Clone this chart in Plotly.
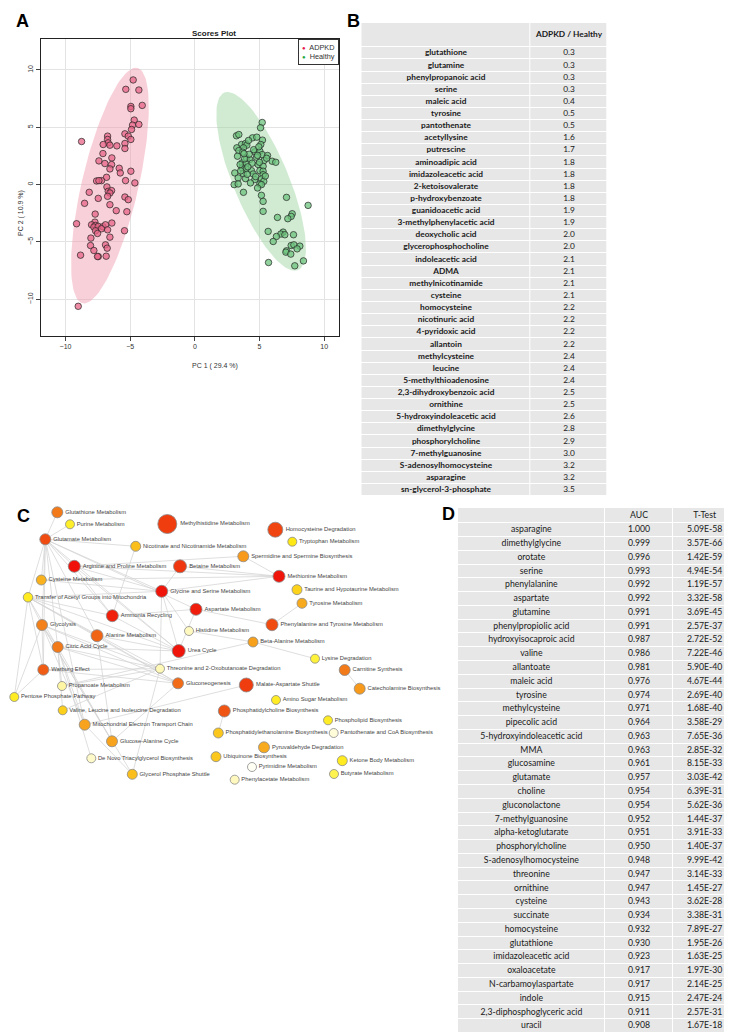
import numpy as np
import plotly.graph_objects as go

W, H = 732, 1036

# ---------------- Panel A data (PCA scores) ----------------
adpkd_pc1 = [-4.77, -5.34, -4.33, -4.95, -4.95, -4.07, -4.69, -4.82, -4.33, -4.90, -5.41, -5.15, -4.95, -5.41, -5.41,
             -8.76, -6.75, -6.75, -6.70, -7.09, -6.57, -6.03, -7.11, -7.42, -6.42, -6.96, -6.44, -5.85, -6.57, -5.77,
             -4.95, -6.83, -7.22, -7.60, -7.42, -5.36, -4.64, -6.80, -6.70, -6.44, -6.57, -6.75, -8.17, -7.47, -5.41,
             -5.15, -8.53, -6.57, -6.08, -5.26, -7.71, -9.15, -7.73, -6.42, -7.99, -7.68, -7.81, -7.47, -7.11, -6.91,
             -7.22, -6.75, -7.68, -7.53, -5.44, -8.04, -6.57, -8.07, -6.91, -6.78, -7.81, -8.84, -7.47, -7.53, -6.86,
             -9.02]
adpkd_pc2 = [9.13, 8.31, 8.25, 6.82, 6.62, 6.91, 5.63, 5.19, 5.25, 4.81, 4.43, 4.23, 3.94, 3.59, 3.15,
             3.76, 4.23, 3.94, 3.64, 3.50, 3.44, 3.38, 2.71, 2.07, 2.33, 1.84, 1.75, 1.43, 1.37, 1.02,
             1.17, 0.64, 0.35, 0.32, 0.35, 0.35, 0.15, -0.20, -0.58, -0.52, -0.73, -1.02, -0.67, -1.20, -1.08,
             -1.31, -1.63, -1.75, -2.27, -2.36, -2.57, -3.41, -3.27, -3.35, -3.50, -3.56, -3.70, -3.64, -3.67, -3.50,
             -3.85, -3.94, -4.02, -4.26, -4.02, -4.66, -4.58, -5.31, -5.25, -5.54, -5.74, -6.15, -6.27, -6.27, -6.24,
             -10.61]
healthy_pc1 = [5.21, 5.08, 3.22, 3.40, 4.46, 4.79, 5.23, 5.10, 3.61, 3.92, 4.02, 3.25, 3.76, 3.40, 3.71, 4.64,
               5.03, 5.21, 5.62, 3.30, 4.00, 4.25, 4.77, 5.36, 5.98, 6.26, 3.66, 3.97, 4.43, 4.90, 5.28, 3.66,
               3.97, 4.38, 5.03, 5.28, 3.09, 3.74, 4.51, 5.28, 3.35, 3.92, 4.64, 5.15, 5.33, 5.03, 3.04, 3.35,
               5.15, 4.85, 3.76, 5.15, 5.28, 7.09, 8.76, 5.28, 7.53, 7.45, 7.19, 6.39, 5.67, 6.83, 6.65, 6.96,
               6.31, 7.63, 6.06, 7.45, 7.66, 8.12, 7.91, 7.09, 7.04, 7.42, 5.70, 8.40, 7.73,
               4.20, 4.55, 3.85, 4.95, 4.10, 3.55, 4.70, 5.45, 3.80, 4.30, 5.00, 4.15, 3.50, 4.85, 4.05, 5.55]
healthy_pc2 = [5.42, 4.96, 4.26, 4.37, 4.08, 4.14, 3.88, 3.50, 3.50, 3.59, 3.44, 3.21, 3.21, 2.97, 2.83, 2.86,
               2.92, 2.62, 2.54, 2.48, 2.33, 2.19, 2.39, 2.10, 2.04, 1.95, 1.90, 1.81, 1.87, 1.75, 1.60, 1.46,
               1.37, 1.22, 1.22, 1.17, 1.02, 0.96, 0.93, 0.87, 0.58, 0.52, 0.44, 0.50, 0.29, 0.06, 0.00, 0.06,
               0.00, -0.29, -0.67, -0.93, -1.46, -1.11, -1.81, -2.33, -2.54, -2.77, -2.97, -2.86, -4.08, -4.14, -4.31,
               -4.37, -4.52, -4.37, -4.96, -5.31, -5.25, -5.36, -5.60, -5.77, -5.89, -6.06, -6.79, -6.65, -7.08,
               2.65, 3.05, 2.25, 3.30, 1.55, 1.20, 0.70, 0.75, 2.70, 0.15, 1.95, 3.85, 1.75, 2.55, 0.90, 2.30]

# ---------------- Panel B data ----------------
b_metabolites = ["glutathione", "glutamine", "phenylpropanoic acid", "serine", "maleic acid", "tyrosine",
                 "pantothenate", "acetyllysine", "putrescine", "aminoadipic acid", "imidazoleacetic acid",
                 "2-ketoisovalerate", "p-hydroxybenzoate", "guanidoacetic acid", "3-methylphenylacetic acid",
                 "deoxycholic acid", "glycerophosphocholine", "indoleacetic acid", "ADMA", "methylnicotinamide",
                 "cysteine", "homocysteine", "nicotinuric acid", "4-pyridoxic acid", "allantoin", "methylcysteine",
                 "leucine", "5-methylthioadenosine", "2,3-dihydroxybenzoic acid", "ornithine",
                 "5-hydroxyindoleacetic acid", "dimethylglycine", "phosphorylcholine", "7-methylguanosine",
                 "S-adenosylhomocysteine", "asparagine", "sn-glycerol-3-phosphate"]
b_ratio = [0.3, 0.3, 0.3, 0.3, 0.4, 0.5, 0.5, 1.6, 1.7, 1.8, 1.8, 1.8, 1.8, 1.9, 1.9, 2.0, 2.0, 2.1, 2.1, 2.1,
           2.1, 2.2, 2.2, 2.2, 2.2, 2.4, 2.4, 2.4, 2.5, 2.5, 2.6, 2.8, 2.9, 3.0, 3.2, 3.2, 3.5]
b_header = ["", "ADPKD / Healthy"]

# ---------------- Panel D data ----------------
d_metabolites = ["asparagine", "dimethylglycine", "orotate", "serine", "phenylalanine", "aspartate", "glutamine",
                 "phenylpropiolic acid", "hydroxyisocaproic acid", "valine", "allantoate", "maleic acid",
                 "tyrosine", "methylcysteine", "pipecolic acid", "5-hydroxyindoleacetic acid", "MMA",
                 "glucosamine", "glutamate", "choline", "gluconolactone", "7-methylguanosine",
                 "alpha-ketoglutarate", "phosphorylcholine", "S-adenosylhomocysteine", "threonine", "ornithine",
                 "cysteine", "succinate", "homocysteine", "glutathione", "imidazoleacetic acid", "oxaloacetate",
                 "N-carbamoylaspartate", "indole", "2,3-diphosphoglyceric acid", "uracil"]
d_auc = [1.000, 0.999, 0.996, 0.993, 0.992, 0.992, 0.991, 0.991, 0.987, 0.986, 0.981, 0.976, 0.974, 0.971,
         0.964, 0.963, 0.963, 0.961, 0.957, 0.954, 0.954, 0.952, 0.951, 0.950, 0.948, 0.947, 0.947, 0.943,
         0.934, 0.932, 0.930, 0.923, 0.917, 0.917, 0.915, 0.911, 0.908]
d_ttest = [5.09e-58, 3.57e-66, 1.42e-59, 4.94e-54, 1.19e-57, 3.32e-58, 3.69e-45, 2.57e-37, 2.72e-52, 7.22e-46,
           5.90e-40, 4.67e-44, 2.69e-40, 1.68e-40, 3.58e-29, 7.65e-36, 2.85e-32, 8.15e-33, 3.03e-42, 6.39e-31,
           5.62e-36, 1.44e-37, 3.91e-33, 1.40e-37, 9.99e-42, 3.14e-33, 1.45e-27, 3.62e-28, 3.38e-31, 7.89e-27,
           1.95e-26, 1.63e-25, 1.97e-30, 2.14e-25, 2.47e-24, 2.57e-31, 1.67e-18]
d_header = ["", "AUC", "T-Test"]

# ---------------- Panel C data (pathway network) ----------------
pathways = ["Glutathione Metabolism", "Purine Metabolism", "Methylhistidine Metabolism", "Homocysteine Degradation",
            "Tryptophan Metabolism", "Glutamate Metabolism", "Nicotinate and Nicotinamide Metabolism",
            "Spermidine and Spermine Biosynthesis", "Arginine and Proline Metabolism", "Betaine Metabolism",
            "Methionine Metabolism", "Cysteine Metabolism", "Taurine and Hypotaurine Metabolism",
            "Glycine and Serine Metabolism", "Transfer of Acetyl Groups into Mitochondria", "Tyrosine Metabolism",
            "Aspartate Metabolism", "Ammonia Recycling", "Glycolysis", "Phenylalanine and Tyrosine Metabolism",
            "Histidine Metabolism", "Alanine Metabolism", "Citric Acid Cycle", "Beta-Alanine Metabolism",
            "Urea Cycle", "Lysine Degradation", "Warburg Effect", "Threonine and 2-Oxobutanoate Degradation",
            "Carnitine Synthesis", "Propanoate Metabolism", "Gluconeogenesis", "Malate-Aspartate Shuttle",
            "Catecholamine Biosynthesis", "Pentose Phosphate Pathway", "Amino Sugar Metabolism",
            "Valine, Leucine and Isoleucine Degradation", "Phosphatidylcholine Biosynthesis",
            "Phospholipid Biosynthesis", "Mitochondrial Electron Transport Chain",
            "Phosphatidylethanolamine Biosynthesis", "Pantothenate and CoA Biosynthesis", "Glucose-Alanine Cycle",
            "Pyruvaldehyde Degradation", "De Novo Triacylglycerol Biosynthesis", "Ubiquinone Biosynthesis",
            "Ketone Body Metabolism", "Pyrimidine Metabolism", "Glycerol Phosphate Shuttle", "Butyrate Metabolism",
            "Phenylacetate Metabolism"]
# network layout positions
node_x = [49.3, 62.0, 159.3, 267.3, 284.3, 37.3, 127.7, 235.3, 66.3, 172.0, 271.0, 33.3, 289.0, 153.7, 20.0, 294.0,
          188.0, 104.3, 34.0, 264.0, 181.0, 89.0, 49.7, 245.0, 170.7, 307.0, 35.3, 152.0, 336.7, 54.0, 170.0, 238.3,
          351.7, 6.3, 268.0, 54.7, 216.3, 320.0, 76.7, 210.3, 325.7, 104.0, 256.0, 83.3, 208.0, 334.3, 244.0, 124.3,
          326.0, 226.7]
node_y = [504.3, 516.3, 516.0, 521.7, 533.7, 531.3, 538.3, 548.3, 558.3, 558.3, 568.3, 572.0, 581.7, 583.3, 589.3,
          595.3, 601.3, 607.7, 617.0, 616.7, 623.0, 627.7, 639.0, 634.0, 643.0, 650.7, 661.7, 660.7, 662.0, 678.0,
          675.3, 677.0, 680.7, 689.0, 692.0, 702.3, 703.0, 712.3, 716.7, 725.0, 725.0, 733.3, 739.3, 750.3, 748.7,
          752.7, 759.0, 766.3, 766.0, 771.7]
# pathway impact (node size) and enrichment significance (node colour)
impact = [11, 9, 19, 15, 9, 11, 10, 11, 12, 13, 12, 10, 10, 12, 9.5, 10, 12, 12, 11, 12, 9, 12, 11, 10, 13, 9, 11, 9,
          11, 9, 11, 14, 11, 9, 9, 9, 12, 9, 11, 10, 9, 11, 11, 9, 10, 10, 9, 10, 9, 9]
significance = [0.70, 0.36, 0.86, 0.84, 0.40, 0.82, 0.50, 0.60, 0.98, 0.88, 0.97, 0.53, 0.45, 0.97, 0.38, 0.55,
                 0.95, 0.94, 0.68, 0.82, 0.12, 0.76, 0.70, 0.58, 0.97, 0.33, 0.78, 0.14, 0.70, 0.18, 0.74, 0.86,
                 0.60, 0.37, 0.37, 0.46, 0.80, 0.37, 0.57, 0.48, 0.06, 0.57, 0.55, 0.10, 0.48, 0.38, 0.0, 0.50,
                 0.30, 0.12]
edges = [
    ("Glutathione Metabolism", "Glutamate Metabolism"),
    ("Purine Metabolism", "Glutamate Metabolism"),
    ("Glutamate Metabolism", "Nicotinate and Nicotinamide Metabolism"),
    ("Glutamate Metabolism", "Arginine and Proline Metabolism"),
    ("Glutamate Metabolism", "Glycine and Serine Metabolism"),
    ("Glutamate Metabolism", "Ammonia Recycling"),
    ("Glutamate Metabolism", "Alanine Metabolism"),
    ("Glutamate Metabolism", "Urea Cycle"),
    ("Glutamate Metabolism", "Aspartate Metabolism"),
    ("Glutamate Metabolism", "Cysteine Metabolism"),
    ("Glutamate Metabolism", "Transfer of Acetyl Groups into Mitochondria"),
    ("Glutamate Metabolism", "Glycolysis"),
    ("Glutamate Metabolism", "Citric Acid Cycle"),
    ("Glutamate Metabolism", "Warburg Effect"),
    ("Glutamate Metabolism", "Mitochondrial Electron Transport Chain"),
    ("Nicotinate and Nicotinamide Metabolism", "Ammonia Recycling"),
    ("Arginine and Proline Metabolism", "Glycine and Serine Metabolism"),
    ("Arginine and Proline Metabolism", "Urea Cycle"),
    ("Arginine and Proline Metabolism", "Spermidine and Spermine Biosynthesis"),
    ("Arginine and Proline Metabolism", "Methionine Metabolism"),
    ("Arginine and Proline Metabolism", "Ammonia Recycling"),
    ("Betaine Metabolism", "Glycine and Serine Metabolism"),
    ("Betaine Metabolism", "Methionine Metabolism"),
    ("Spermidine and Spermine Biosynthesis", "Methionine Metabolism"),
    ("Methionine Metabolism", "Glycine and Serine Metabolism"),
    ("Methionine Metabolism", "Cysteine Metabolism"),
    ("Cysteine Metabolism", "Glycine and Serine Metabolism"),
    ("Glycine and Serine Metabolism", "Urea Cycle"),
    ("Glycine and Serine Metabolism", "Threonine and 2-Oxobutanoate Degradation"),
    ("Glycine and Serine Metabolism", "Transfer of Acetyl Groups into Mitochondria"),
    ("Aspartate Metabolism", "Phenylalanine and Tyrosine Metabolism"),
    ("Aspartate Metabolism", "Urea Cycle"),
    ("Aspartate Metabolism", "Ammonia Recycling"),
    ("Tyrosine Metabolism", "Phenylalanine and Tyrosine Metabolism"),
    ("Histidine Metabolism", "Beta-Alanine Metabolism"),
    ("Histidine Metabolism", "Glycine and Serine Metabolism"),
    ("Beta-Alanine Metabolism", "Lysine Degradation"),
    ("Beta-Alanine Metabolism", "Propanoate Metabolism"),
    ("Ammonia Recycling", "Urea Cycle"),
    ("Ammonia Recycling", "Transfer of Acetyl Groups into Mitochondria"),
    ("Alanine Metabolism", "Urea Cycle"),
    ("Alanine Metabolism", "Glucose-Alanine Cycle"),
    ("Alanine Metabolism", "Transfer of Acetyl Groups into Mitochondria"),
    ("Alanine Metabolism", "Gluconeogenesis"),
    ("Transfer of Acetyl Groups into Mitochondria", "Glycolysis"),
    ("Transfer of Acetyl Groups into Mitochondria", "Citric Acid Cycle"),
    ("Transfer of Acetyl Groups into Mitochondria", "Warburg Effect"),
    ("Transfer of Acetyl Groups into Mitochondria", "Pentose Phosphate Pathway"),
    ("Transfer of Acetyl Groups into Mitochondria", "Urea Cycle"),
    ("Transfer of Acetyl Groups into Mitochondria", "Threonine and 2-Oxobutanoate Degradation"),
    ("Transfer of Acetyl Groups into Mitochondria", "Gluconeogenesis"),
    ("Glycolysis", "Warburg Effect"),
    ("Glycolysis", "Citric Acid Cycle"),
    ("Glycolysis", "Pentose Phosphate Pathway"),
    ("Glycolysis", "Gluconeogenesis"),
    ("Glycolysis", "Mitochondrial Electron Transport Chain"),
    ("Glycolysis", "Glucose-Alanine Cycle"),
    ("Glycolysis", "Glycerol Phosphate Shuttle"),
    ("Glycolysis", "Threonine and 2-Oxobutanoate Degradation"),
    ("Citric Acid Cycle", "Mitochondrial Electron Transport Chain"),
    ("Citric Acid Cycle", "Threonine and 2-Oxobutanoate Degradation"),
    ("Citric Acid Cycle", "Gluconeogenesis"),
    ("Citric Acid Cycle", "Propanoate Metabolism"),
    ("Citric Acid Cycle", "Glucose-Alanine Cycle"),
    ("Citric Acid Cycle", "De Novo Triacylglycerol Biosynthesis"),
    ("Citric Acid Cycle", "Urea Cycle"),
    ("Warburg Effect", "Pentose Phosphate Pathway"),
    ("Warburg Effect", "Gluconeogenesis"),
    ("Warburg Effect", "Threonine and 2-Oxobutanoate Degradation"),
    ("Valine, Leucine and Isoleucine Degradation", "Threonine and 2-Oxobutanoate Degradation"),
    ("Valine, Leucine and Isoleucine Degradation", "Citric Acid Cycle"),
    ("Propanoate Metabolism", "Threonine and 2-Oxobutanoate Degradation"),
    ("Glucose-Alanine Cycle", "Gluconeogenesis"),
    ("Mitochondrial Electron Transport Chain", "Malate-Aspartate Shuttle"),
    ("Mitochondrial Electron Transport Chain", "Glycerol Phosphate Shuttle"),
    ("Glycerol Phosphate Shuttle", "Threonine and 2-Oxobutanoate Degradation"),
    ("Carnitine Synthesis", "Catecholamine Biosynthesis"),
    ("Phosphatidylcholine Biosynthesis", "Phosphatidylethanolamine Biosynthesis"),
]

# ---------------- helpers ----------------
def fx(px):
    return px / W


def fy(py):
    return 1 - py / H


def conf_ellipse(x, y, n=120, chi2=5.991):
    x = np.asarray(x); y = np.asarray(y)
    mu = np.array([x.mean(), y.mean()])
    vals, vecs = np.linalg.eigh(np.cov(x, y))
    t = np.linspace(0, 2 * np.pi, n)
    circ = np.vstack([np.cos(t), np.sin(t)]) * np.sqrt(vals[:, None] * chi2)
    pts = (vecs @ circ).T + mu
    return pts[:, 0], pts[:, 1]


fig = go.Figure()

# ---------------- Panel A ----------------
ex, ey = conf_ellipse(adpkd_pc1, adpkd_pc2)
fig.add_trace(go.Scatter(x=ex, y=ey, mode="lines", fill="toself", fillcolor="rgba(240,150,170,0.45)",
                         line=dict(width=0), hoverinfo="skip", showlegend=False))
ex, ey = conf_ellipse(healthy_pc1, healthy_pc2)
fig.add_trace(go.Scatter(x=ex, y=ey, mode="lines", fill="toself", fillcolor="rgba(150,210,155,0.45)",
                         line=dict(width=0), hoverinfo="skip", showlegend=False))
fig.add_trace(go.Scatter(x=adpkd_pc1, y=adpkd_pc2, mode="markers", name="ADPKD", showlegend=False,
                         marker=dict(size=6.5, color="rgba(232,100,135,0.75)", line=dict(color="#222", width=0.7))))
fig.add_trace(go.Scatter(x=healthy_pc1, y=healthy_pc2, mode="markers", name="Healthy", showlegend=False,
                         marker=dict(size=6.5, color="rgba(110,195,125,0.75)", line=dict(color="#222", width=0.7))))

axfont = dict(family="Liberation Sans", size=7, color="#333")
fig.update_layout(
    xaxis=dict(domain=[fx(33), fx(331)], range=[-11.9, 11.15], tickvals=[-10, -5, 0, 5, 10],
               ticks="outside", ticklen=4, tickcolor="#444", showline=True, mirror=True, linecolor="#222",
               linewidth=1, showgrid=True, gridcolor="#E3E3E3", zeroline=False, tickfont=axfont, anchor="y"),
    yaxis=dict(domain=[fy(328), fy(31)], range=[-13.2, 12.7], tickvals=[-10, -5, 0, 5, 10],
               ticks="outside", ticklen=4, tickcolor="#444", showline=True, mirror=True, linecolor="#222",
               linewidth=1, showgrid=True, gridcolor="#E3E3E3", zeroline=False, tickfont=axfont,
               tickangle=-90, anchor="x"),
)

# ---------------- Panel C ----------------
idx = {n: i for i, n in enumerate(pathways)}
lx, ly = [], []
for a, b in edges:
    lx += [node_x[idx[a]], node_x[idx[b]], None]
    ly += [node_y[idx[a]], node_y[idx[b]], None]
fig.add_trace(go.Scatter(x=lx, y=ly, mode="lines", line=dict(color="#D6D6D6", width=0.8),
                         hoverinfo="skip", showlegend=False, xaxis="x2", yaxis="y2"))
colorscale = [[0.0, "#FFFFF4"], [0.12, "#FFF9C0"], [0.2, "#FFF59A"], [0.33, "#FFF23A"], [0.4, "#FFE814"],
              [0.47, "#FBCB1C"], [0.55, "#F8AA1E"], [0.62, "#F6921A"], [0.72, "#F27418"], [0.82, "#F04C12"],
              [0.9, "#F02E0E"], [1.0, "#F00A0A"]]
fig.add_trace(go.Scatter(x=node_x, y=node_y, mode="markers+text", text=pathways, textposition="middle right",
                         textfont=dict(family="Liberation Sans", size=5.8, color="#444"),
                         marker=dict(size=impact, color=significance, colorscale=colorscale, cmin=0, cmax=1,
                                     line=dict(color="#8A8A8A", width=0.8), opacity=1),
                         cliponaxis=False, hoverinfo="text", showlegend=False, xaxis="x2", yaxis="y2"))
fig.update_layout(
    xaxis2=dict(domain=[0, fx(440)], range=[0, 440], visible=False, anchor="y2"),
    yaxis2=dict(domain=[fy(790), fy(490)], range=[790, 490], visible=False, anchor="x2"),
)

# ---------------- Tables (B and D) ----------------
def add_table(columns, header, col_edges, header_rows, xa, ya, name_bold, font_size):
    nrows = len(columns[0])
    yedges = [-header_rows] + list(range(0, nrows + 1))
    z = [[1] * len(columns) for _ in range(nrows + 1)]
    fig.add_trace(go.Heatmap(x=col_edges, y=yedges, z=z, colorscale=[[0, "#E7E7E7"], [1, "#E7E7E7"]],
                             showscale=False, xgap=1, ygap=1, hoverinfo="skip", xaxis=xa, yaxis=ya))
    rows_y = [i + 0.5 for i in range(nrows)]
    for c, col in enumerate(columns):
        cx = (col_edges[c] + col_edges[c + 1]) / 2
        bold = name_bold if c == 0 else False
        fig.add_trace(go.Scatter(x=[cx] * nrows, y=rows_y, mode="text", text=col,
                                 textfont=dict(family="Lato", size=font_size, color="#1a1a1a",
                                               weight="bold" if bold else "normal"),
                                 hoverinfo="skip", showlegend=False, xaxis=xa, yaxis=ya, cliponaxis=False))
        if header[c]:
            fig.add_trace(go.Scatter(x=[cx], y=[-header_rows / 2], mode="text", text=[header[c]],
                                     textfont=dict(family="Lato", size=font_size, color="#1a1a1a",
                                                   weight="bold" if name_bold else "normal"),
                                     hoverinfo="skip", showlegend=False, xaxis=xa, yaxis=ya, cliponaxis=False))
    return nrows


# B
nb = add_table([b_metabolites, [f"{v:.1f}" for v in b_ratio]], b_header, [0, 169.4, 246], 2,
               "x3", "y3", True, 8.3)
b_top, b_row = 15, 12.13
fig.update_layout(
    xaxis3=dict(domain=[fx(353.3), fx(599.3)], range=[0, 246], visible=False, anchor="y3"),
    yaxis3=dict(domain=[fy(b_top + (nb + 2) * b_row), fy(b_top)], range=[nb, -2], visible=False, anchor="x3"),
)
# D
nd = add_table([d_metabolites, [f"{v:.3f}" for v in d_auc], [f"{v:.2E}" for v in d_ttest]], d_header,
               [0, 146.7, 215.3, 278], 1.1, "x4", "y4", False, 8.7)
d_top, d_row = 500, 13.78
fig.update_layout(
    xaxis4=dict(domain=[fx(450), fx(728)], range=[0, 278], visible=False, anchor="y4"),
    yaxis4=dict(domain=[fy(d_top + (nd + 1.1) * d_row), fy(d_top)], range=[nd, -1.1], visible=False,
                anchor="x4"),
)

# ---------------- annotations ----------------
ann = []
for lab, x, y in [("A", 6, 1), ("B", 337, 1), ("C", 7, 496), ("D", 432, 494)]:
    ann.append(dict(text=f"<b>{lab}</b>", x=fx(x), y=fy(y), xref="paper", yref="paper", xanchor="left",
                    yanchor="top", showarrow=False, font=dict(family="Liberation Sans", size=18, color="black")))
ann.append(dict(text="<b>Scores Plot</b>", x=fx(182), y=fy(19), xref="paper", yref="paper", showarrow=False,
                font=dict(family="Liberation Sans", size=8, color="#222")))
ann.append(dict(text="PC 1 ( 29.4 %)", x=fx(182), y=fy(358), xref="paper", yref="paper", showarrow=False,
                font=dict(family="Liberation Sans", size=7, color="#333")))
ann.append(dict(text="PC 2 ( 10.9 %)", x=fx(7), y=fy(180), xref="paper", yref="paper", showarrow=False,
                textangle=-90, font=dict(family="Liberation Sans", size=7, color="#333")))
ann.append(dict(text="<span style='color:#E8174B;font-size:6px'>●</span>  ADPKD<br>"
                     "<span style='color:#22A845;font-size:6px'>●</span>  Healthy",
                x=fx(331), y=fy(31), xref="paper", yref="paper", xanchor="right", yanchor="top",
                align="left", showarrow=False, bgcolor="white", bordercolor="#333", borderwidth=1, borderpad=3,
                font=dict(family="Liberation Sans", size=7.3, color="#333")))

fig.update_layout(width=W, height=H, margin=dict(l=0, r=0, t=0, b=0), paper_bgcolor="white",
                  plot_bgcolor="white", showlegend=False, annotations=ann)

fig.write_html("out.html")
